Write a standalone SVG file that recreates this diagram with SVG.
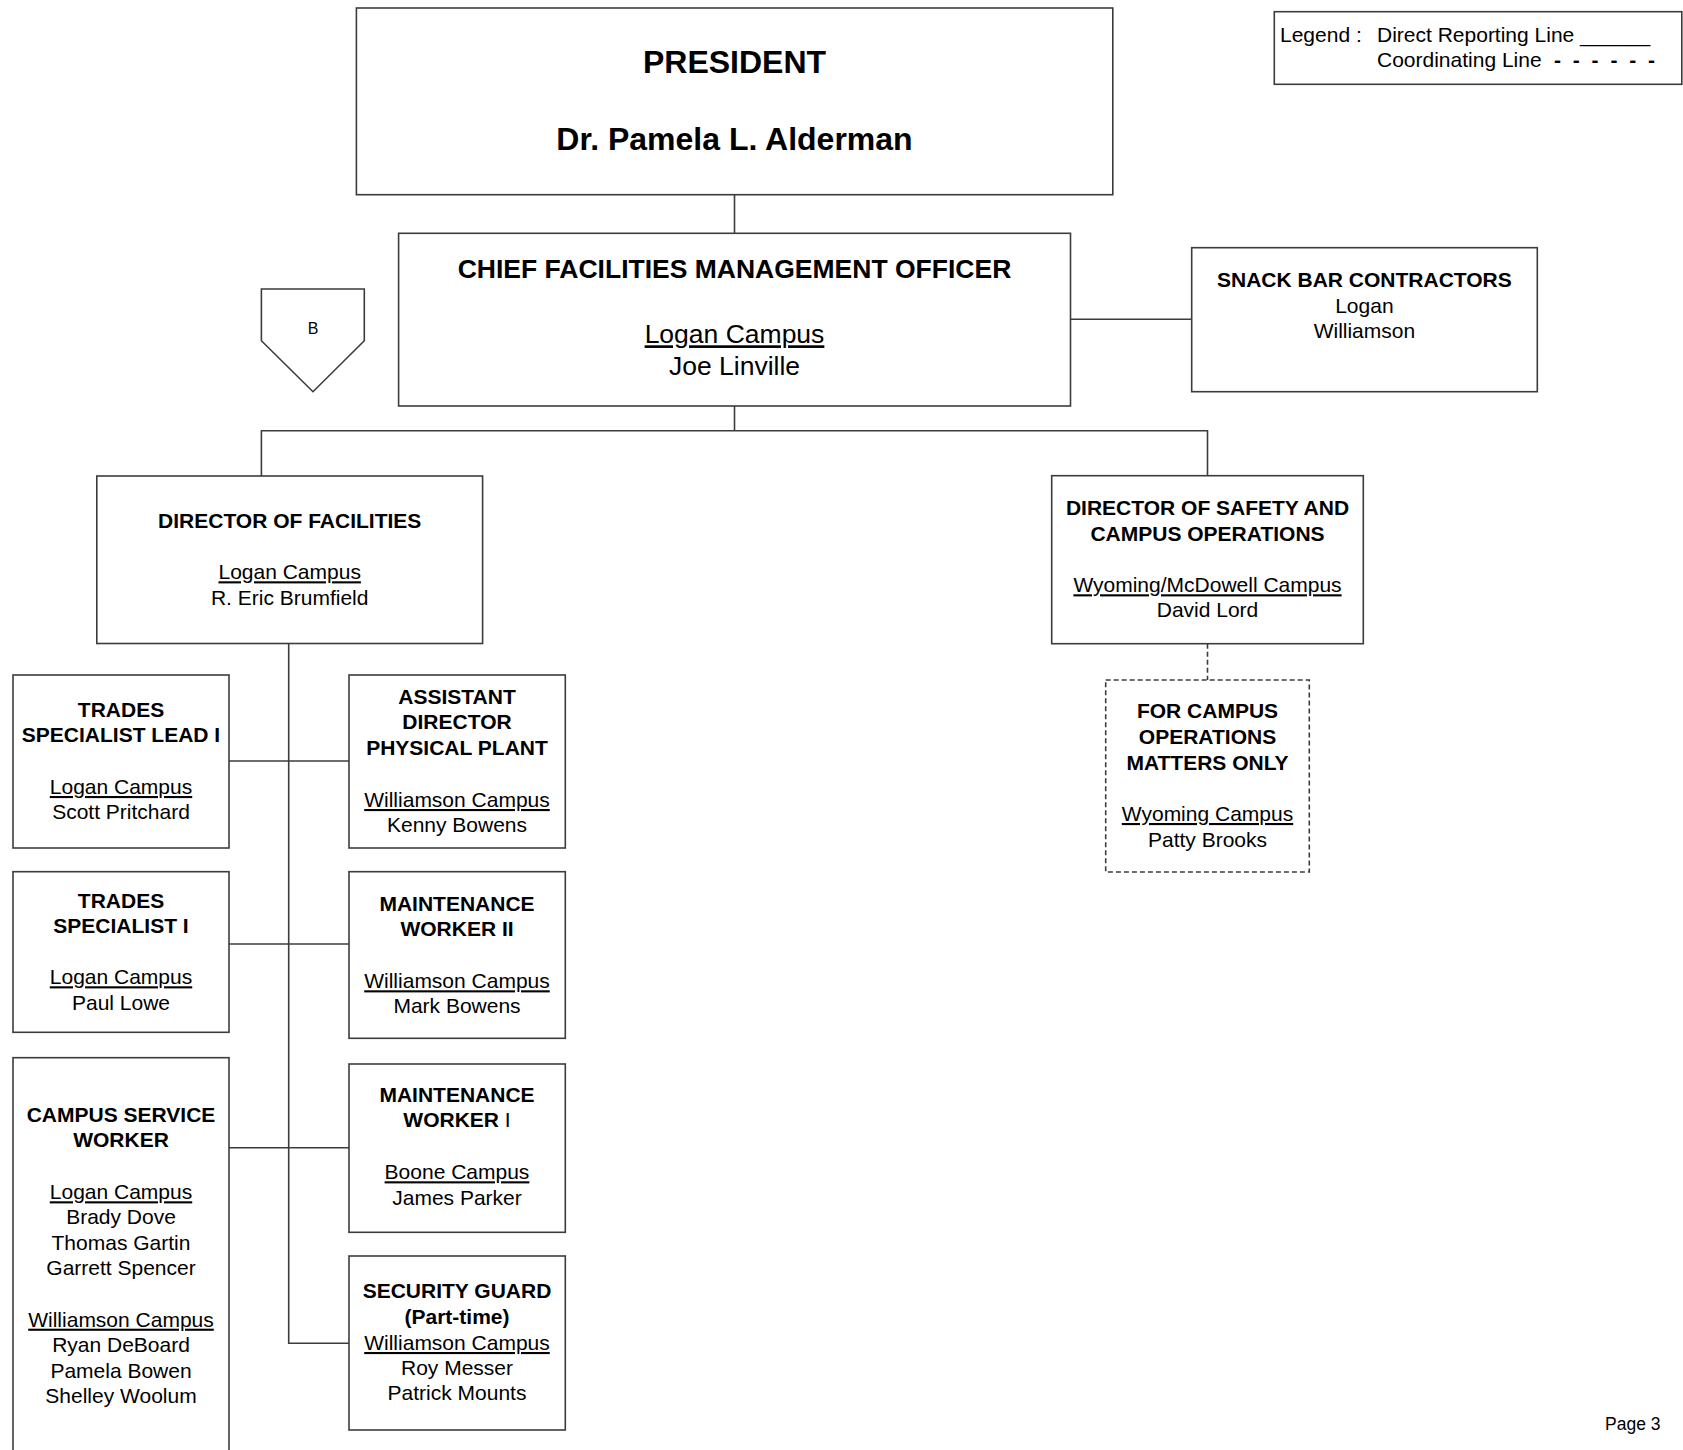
<svg xmlns="http://www.w3.org/2000/svg" width="1683" height="1450" viewBox="0 0 1683 1450">
<style>
.box{fill:#fff;stroke:#3c3c3c;stroke-width:1.6}
.dbox{fill:#fff;stroke:#3c3c3c;stroke-width:1.6;stroke-dasharray:5 3}
.ln{fill:none;stroke:#3c3c3c;stroke-width:1.6}
.dln{fill:none;stroke:#3c3c3c;stroke-width:1.6;stroke-dasharray:5 3}
text{font-family:"Liberation Sans",Arial,Helvetica,sans-serif;fill:#000}
.c{text-anchor:middle}
.b{font-weight:bold}
.u{text-decoration:underline}
.s21{font-size:21px}
.s26{font-size:26.5px}
.s32{font-size:32px}
</style>
<rect width="1683" height="1450" fill="#fff"/>

<g id="connectors">
  <line class="ln" x1="734.5" y1="194.7" x2="734.5" y2="233.3"/>
  <line class="ln" x1="1070.5" y1="319.3" x2="1191.7" y2="319.3"/>
  <polyline class="ln" points="734.5,406 734.5,430.7"/>
  <polyline class="ln" points="261.4,476 261.4,430.7 1207.5,430.7 1207.5,475.7"/>
  <polyline class="ln" points="288.7,643.5 288.7,1343.3 349,1343.3"/>
  <line class="ln" x1="229" y1="761" x2="349" y2="761"/>
  <line class="ln" x1="229" y1="944" x2="349" y2="944"/>
  <line class="ln" x1="229" y1="1147.7" x2="349" y2="1147.7"/>
  <line class="dln" x1="1207.5" y1="643.7" x2="1207.5" y2="680"/>
</g>

<g id="legend">
  <rect class="box" x="1274.3" y="11.7" width="407.5" height="72.6"/>
  <text class="s21" x="1280" y="41.7">Legend :</text>
  <text class="s21" x="1377" y="41.7">Direct Reporting Line ______</text>
  <text class="s21" x="1377" y="66.7">Coordinating Line</text>
  <text class="s21 b" x="1554 1572.8 1591.6 1610.4 1629.2 1648" y="66.7">------</text>
</g>

<g id="president">
  <rect class="box" x="356.4" y="8" width="756.4" height="186.7"/>
  <text class="c b s32" x="734.5" y="72.7">PRESIDENT</text>
  <text class="c b s32" x="734.5" y="150">Dr. Pamela L. Alderman</text>
</g>

<g id="chief">
  <rect class="box" x="398.6" y="233.3" width="671.9" height="172.7"/>
  <text class="c b s26" x="734.5" y="278.3">CHIEF FACILITIES MANAGEMENT OFFICER</text>
  <text class="c u s26" x="734.5" y="343.3">Logan Campus</text>
  <text class="c s26" x="734.5" y="374.5">Joe Linville</text>
</g>

<g id="snackbar">
  <rect class="box" x="1191.7" y="247.7" width="345.6" height="144"/>
  <text class="c b s21" x="1364.4" y="287.3">SNACK BAR CONTRACTORS</text>
  <text class="c s21" x="1364.4" y="313.3">Logan</text>
  <text class="c s21" x="1364.4" y="338.3">Williamson</text>
</g>

<g id="offpage-b">
  <polygon class="box" points="261.4,289 364.3,289 364.3,340.7 313,391.7 261.4,340.7"/>
  <text class="c" x="313" y="334" font-size="16">B</text>
</g>

<g id="dir-facilities">
  <rect class="box" x="96.8" y="476" width="385.8" height="167.5"/>
  <text class="c b s21" x="289.7" y="528.3">DIRECTOR OF FACILITIES</text>
  <text class="c u s21" x="289.7" y="579.3">Logan Campus</text>
  <text class="c s21" x="289.7" y="605">R. Eric Brumfield</text>
</g>

<g id="dir-safety">
  <rect class="box" x="1051.7" y="475.7" width="311.6" height="168"/>
  <text class="c b s21" x="1207.5" y="515">DIRECTOR OF SAFETY AND</text>
  <text class="c b s21" x="1207.5" y="540.7">CAMPUS OPERATIONS</text>
  <text class="c u s21" x="1207.5" y="592.3">Wyoming/McDowell Campus</text>
  <text class="c s21" x="1207.5" y="617.3">David Lord</text>
</g>

<g id="campus-ops">
  <rect class="dbox" x="1105.7" y="680" width="203.6" height="192"/>
  <text class="c b s21" x="1207.5" y="718.3">FOR CAMPUS</text>
  <text class="c b s21" x="1207.5" y="744.3">OPERATIONS</text>
  <text class="c b s21" x="1207.5" y="770">MATTERS ONLY</text>
  <text class="c u s21" x="1207.5" y="821">Wyoming Campus</text>
  <text class="c s21" x="1207.5" y="846.7">Patty Brooks</text>
</g>

<g id="trades-lead">
  <rect class="box" x="13" y="675" width="216" height="173"/>
  <text class="c b s21" x="121" y="716.7">TRADES</text>
  <text class="c b s21" x="121" y="742.3">SPECIALIST LEAD I</text>
  <text class="c u s21" x="121" y="794">Logan Campus</text>
  <text class="c s21" x="121" y="819.3">Scott Pritchard</text>
</g>

<g id="asst-director">
  <rect class="box" x="349" y="675" width="216.3" height="173"/>
  <text class="c b s21" x="457" y="703.7">ASSISTANT</text>
  <text class="c b s21" x="457" y="729.3">DIRECTOR</text>
  <text class="c b s21" x="457" y="755">PHYSICAL PLANT</text>
  <text class="c u s21" x="457" y="807">Williamson Campus</text>
  <text class="c s21" x="457" y="831.7">Kenny Bowens</text>
</g>

<g id="trades-specialist">
  <rect class="box" x="13" y="871.7" width="216" height="160.6"/>
  <text class="c b s21" x="121" y="907.7">TRADES</text>
  <text class="c b s21" x="121" y="933.3">SPECIALIST I</text>
  <text class="c u s21" x="121" y="984.3">Logan Campus</text>
  <text class="c s21" x="121" y="1010">Paul Lowe</text>
</g>

<g id="maint-worker-2">
  <rect class="box" x="349" y="871.7" width="216.3" height="166.6"/>
  <text class="c b s21" x="457" y="910.7">MAINTENANCE</text>
  <text class="c b s21" x="457" y="936">WORKER II</text>
  <text class="c u s21" x="457" y="988.3">Williamson Campus</text>
  <text class="c s21" x="457" y="1012.7">Mark Bowens</text>
</g>

<g id="campus-service-worker">
  <rect class="box" x="13" y="1057.7" width="216" height="410"/>
  <text class="c b s21" x="121" y="1121.7">CAMPUS SERVICE</text>
  <text class="c b s21" x="121" y="1146.7">WORKER</text>
  <text class="c u s21" x="121" y="1199.3">Logan Campus</text>
  <text class="c s21" x="121" y="1224">Brady Dove</text>
  <text class="c s21" x="121" y="1250">Thomas Gartin</text>
  <text class="c s21" x="121" y="1275">Garrett Spencer</text>
  <text class="c u s21" x="121" y="1326.7">Williamson Campus</text>
  <text class="c s21" x="121" y="1352.3">Ryan DeBoard</text>
  <text class="c s21" x="121" y="1377.7">Pamela Bowen</text>
  <text class="c s21" x="121" y="1403.3">Shelley Woolum</text>
</g>

<g id="maint-worker-1">
  <rect class="box" x="349" y="1064" width="216.3" height="168.3"/>
  <text class="c b s21" x="457" y="1101.7">MAINTENANCE</text>
  <text class="c b s21" x="457" y="1127.3">WORKER <tspan font-weight="normal">I</tspan></text>
  <text class="c u s21" x="457" y="1179.3">Boone Campus</text>
  <text class="c s21" x="457" y="1205">James Parker</text>
</g>

<g id="security-guard">
  <rect class="box" x="349" y="1256" width="216.3" height="174"/>
  <text class="c b s21" x="457" y="1298.3">SECURITY GUARD</text>
  <text class="c b s21" x="457" y="1324">(Part-time)</text>
  <text class="c u s21" x="457" y="1350">Williamson Campus</text>
  <text class="c s21" x="457" y="1375">Roy Messer</text>
  <text class="c s21" x="457" y="1400">Patrick Mounts</text>
</g>

<text x="1605" y="1430" font-size="17.5">Page 3</text>
</svg>
